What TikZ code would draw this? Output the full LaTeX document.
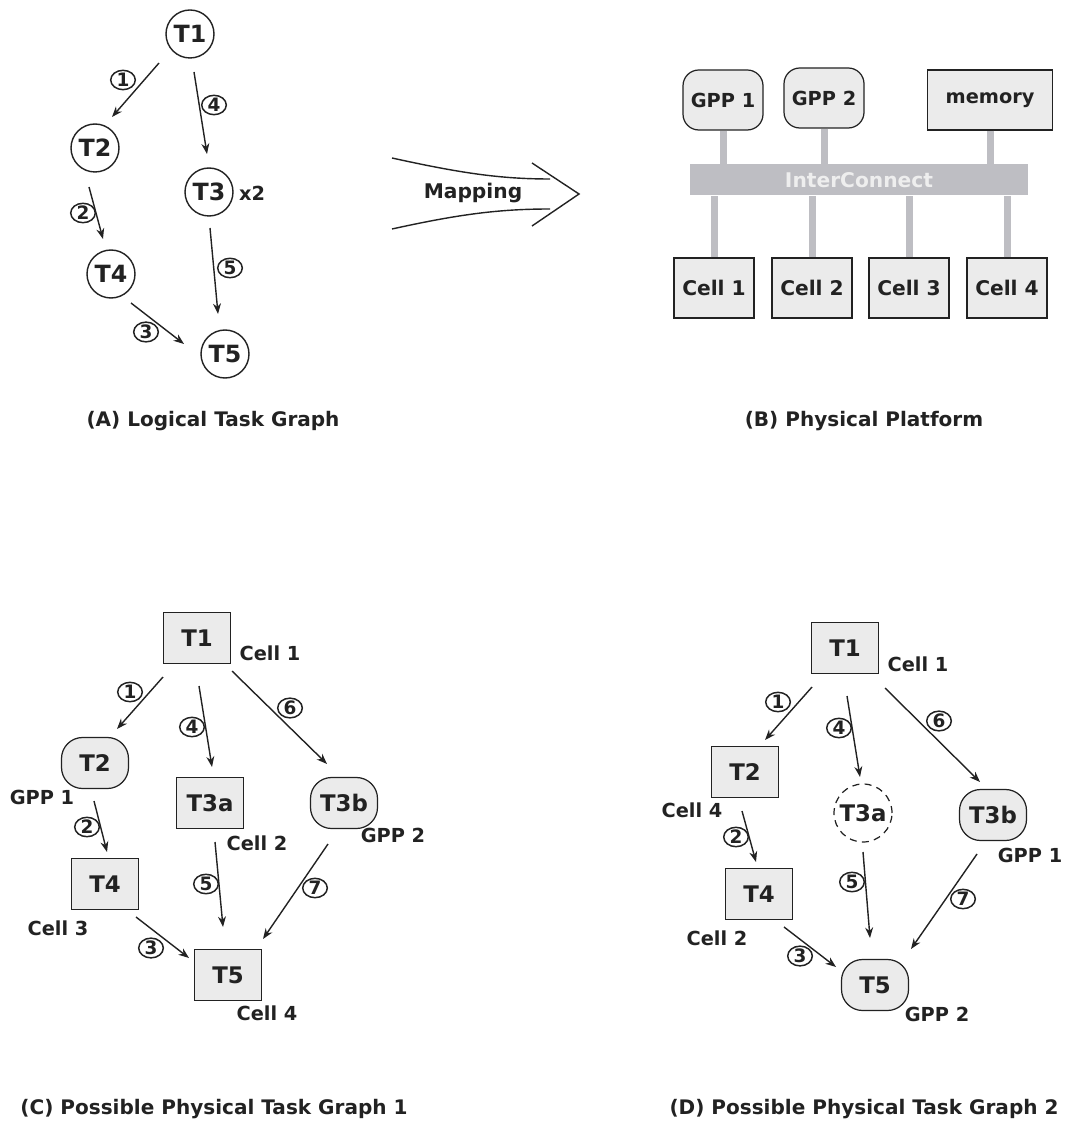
\documentclass[tikz,border=0pt]{standalone}
\usepackage{fontspec}
\setmainfont{DejaVu Sans}
\usetikzlibrary{calc,arrows.meta,shapes.geometric}
\definecolor{ink}{HTML}{222222}
\definecolor{boxfill}{HTML}{EBEBEB}
\definecolor{busgray}{RGB}{190,190,195}
\definecolor{bustext}{HTML}{EEEEEE}
\begin{document}
\begin{tikzpicture}[x=0.02cm,y=-0.02cm,
  every node/.style={text=ink, font=\bfseries},
  task/.style={circle, draw=ink, line width=0.8pt, minimum size=48*0.02cm, inner sep=0pt,
    font=\bfseries\fontsize{13.5}{15}\selectfont},
  cellbox/.style={rectangle, draw=ink, line width=0.7pt, fill=boxfill, minimum width=67*0.02cm,
    minimum height=51*0.02cm, inner sep=0pt, font=\bfseries\fontsize{13}{15}\selectfont},
  gppbox/.style={cellbox, rounded corners=12pt},
  ghost/.style={circle, draw=ink, line width=0.7pt, dash pattern=on 4pt off 3pt,
    minimum size=58*0.02cm, inner sep=0pt, font=\bfseries\fontsize{13}{15}\selectfont},
  hwbox/.style={rectangle, draw=ink, line width=0.7pt, fill=boxfill, minimum width=80*0.02cm,
    minimum height=60*0.02cm, inner sep=0pt, font=\bfseries\fontsize{11.5}{14}\selectfont},
  hwgpp/.style={hwbox, rounded corners=9pt, font=\bfseries\fontsize{11}{14}\selectfont},
  link/.style={draw=busgray, line width=7*0.02cm},
  num/.style={ellipse, draw=ink, line width=0.85pt, minimum width=14pt, minimum height=11pt,
    inner sep=0pt, font=\bfseries\fontsize{10.5}{11}\selectfont},
  place/.style={font=\bfseries\fontsize{11}{13}\selectfont},
  caption/.style={font=\bfseries\fontsize{11.4}{13}\selectfont},
  flow/.style={draw=ink, line width=0.8pt, -{Stealth[length=6pt,width=4.5pt]}}
]
\useasboundingbox (0,0) rectangle (1068,1124);

% ---------- (A) logical task graph ----------
\node[task] (a1) at (190,34) {T1};
\node[task] (a2) at (95,148) {T2};
\node[task] (a3) at (209,192) {T3};
\node[task] (a4) at (111,274) {T4};
\node[task] (a5) at (225,354) {T5};
\node[place] (ax2) at (252,193) {x2};

\draw[flow] ($(a1)+(-31,29)$) -- ($(a2)+(17,-31)$);
\draw[flow] ($(a1)+(4,38)$) -- ($(a3)+(-2,-38)$);
\draw[flow] ($(a2)+(-6,39)$) -- ($(a4)+(-8,-35)$);
\draw[flow] ($(a3)+(1,36)$) -- ($(a5)+(-7,-40)$);
\draw[flow] ($(a4)+(20,29)$) -- ($(a5)+(-41,-10)$);
\node[num] (an1) at (123,80) {1};
\node[num] (an4) at (214,105) {4};
\node[num] (an2) at (83,213) {2};
\node[num] (an5) at (230,268) {5};
\node[num] (an3) at (146,332) {3};

\node[caption] (capA) at (213,421) {(A) Logical Task Graph};

% ---------- mapping arrow ----------
\draw[ink, line width=0.8pt] (392,158) .. controls (460,173) and (500,179) .. (550,179);
\draw[ink, line width=0.8pt] (392,229) .. controls (460,214) and (500,209) .. (550,209);
\draw[ink, line width=0.8pt] (532,163) -- (579,194) -- (532,226);
\node[font=\bfseries\fontsize{11.5}{13}\selectfont] (map) at (473,193) {Mapping};

% ---------- (B) physical platform ----------
\node[hwgpp] (g1) at (723,100) {GPP 1};
\node[hwgpp] (g2) at (824,98) {GPP 2};
\node[hwbox, minimum width=125*0.02cm, font=\bfseries\fontsize{11}{14}\selectfont] (mem) at (990,100) {memory};
\node[rectangle, fill=busgray, minimum width=338*0.02cm, minimum height=31*0.02cm, inner sep=0pt,
  text=bustext, font=\bfseries\fontsize{11.5}{13}\selectfont] (bus) at (859,180) {InterConnect};
\node[hwbox] (c1) at (714,288) {Cell 1};
\node[hwbox] (c2) at (812,288) {Cell 2};
\node[hwbox] (c3) at (909,288) {Cell 3};
\node[hwbox] (c4) at (1007,288) {Cell 4};

\path[link] (g1.south) -- (g1.south |- bus.north);
\path[link] (g2.south) -- (g2.south |- bus.north);
\path[link] (mem.south) -- (mem.south |- bus.north);
\path[link] (c1.north) -- (c1.north |- bus.south);
\path[link] (c2.north) -- (c2.north |- bus.south);
\path[link] (c3.north) -- (c3.north |- bus.south);
\path[link] (c4.north) -- (c4.north |- bus.south);

\node[caption] (capB) at (864,421) {(B) Physical Platform};

% ---------- (C) physical task graph 1 ----------
\node[cellbox] (c1t1) at (197,638) {T1};
\node[gppbox] (c1t2) at (95,763) {T2};
\node[cellbox] (c1t3a) at (210,803) {T3a};
\node[gppbox] (c1t3b) at (344,803) {T3b};
\node[cellbox] (c1t4) at (105,884) {T4};
\node[cellbox] (c1t5) at (228,975) {T5};

\node[place] (c1l1) at (270,653) {Cell 1};
\node[place] (c1l2) at (42,797) {GPP 1};
\node[place] (c1l3) at (257,843) {Cell 2};
\node[place] (c1l4) at (393,835) {GPP 2};
\node[place] (c1l5) at (58,928) {Cell 3};
\node[place] (c1l6) at (267,1013) {Cell 4};

\draw[flow] ($(c1t1)+(-34,39)$) -- ($(c1t2)+(22,-34)$);
\draw[flow] ($(c1t1)+(2,48)$) -- ($(c1t3a)+(2,-36)$);
\draw[flow] ($(c1t1)+(35,33)$) -- ($(c1t3b)+(-17,-39)$);
\draw[flow] ($(c1t2)+(-1,38)$) -- ($(c1t4)+(2,-32)$);
\draw[flow] ($(c1t3a)+(5,39)$) -- ($(c1t5)+(-5,-48)$);
\draw[flow] ($(c1t3b)+(-16,41)$) -- ($(c1t5)+(35,-36)$);
\draw[flow] ($(c1t4)+(31,33)$) -- ($(c1t5)+(-39,-17)$);

\node[num] (c1n1) at (130,692) {1};
\node[num] (c1n4) at (192,727) {4};
\node[num] (c1n6) at (290,708) {6};
\node[num] (c1n2) at (87,827) {2};
\node[num] (c1n5) at (206,884) {5};
\node[num] (c1n7) at (315,888) {7};
\node[num] (c1n3) at (151,948) {3};

\node[caption] (capC) at (214,1109) {(C) Possible Physical Task Graph 1};

% ---------- (D) physical task graph 2 ----------
\node[cellbox] (d1) at (845,648) {T1};
\node[cellbox] (d2) at (745,772) {T2};
\node[ghost] (d3a) at (863,813) {T3a};
\node[gppbox] (d3b) at (993,815) {T3b};
\node[cellbox] (d4) at (759,894) {T4};
\node[gppbox] (d5) at (875,985) {T5};

\node[place] (dl1) at (918,664) {Cell 1};
\node[place] (dl2) at (692,810) {Cell 4};
\node[place] (dl3) at (1030,855) {GPP 1};
\node[place] (dl4) at (717,938) {Cell 2};
\node[place] (dl5) at (937,1014) {GPP 2};

\draw[flow] ($(d1)+(-33,39)$) -- ($(d2)+(20,-32)$);
\draw[flow] ($(d1)+(2,48)$) -- ($(d3a)+(-3,-36)$);
\draw[flow] ($(d1)+(40,40)$) -- ($(d3b)+(-13,-33)$);
\draw[flow] ($(d2)+(-3,39)$) -- ($(d4)+(-3,-32)$);
\draw[flow] ($(d3a)+(0,39)$) -- ($(d5)+(-5,-47)$);
\draw[flow] ($(d3b)+(-16,39)$) -- ($(d5)+(36,-36)$);
\draw[flow] ($(d4)+(25,33)$) -- ($(d5)+(-39,-18)$);

\node[num] (dn1) at (778,702) {1};
\node[num] (dn4) at (839,728) {4};
\node[num] (dn6) at (939,721) {6};
\node[num] (dn2) at (736,837) {2};
\node[num] (dn5) at (852,882) {5};
\node[num] (dn7) at (963,899) {7};
\node[num] (dn3) at (800,956) {3};

\node[caption] (capD) at (864,1109) {(D) Possible Physical Task Graph 2};
\end{tikzpicture}
\end{document}
